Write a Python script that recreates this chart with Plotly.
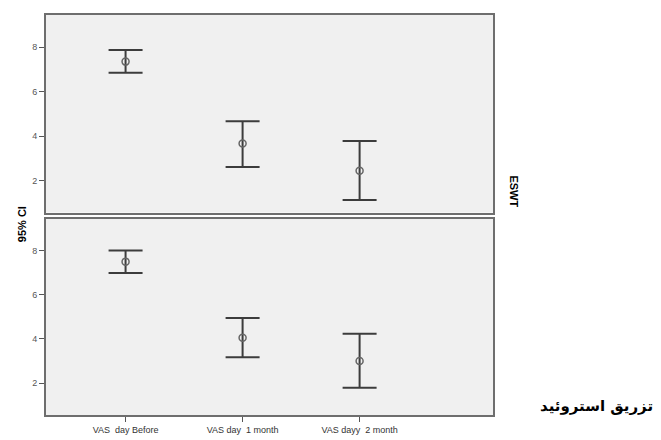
import plotly.graph_objects as go

categories = ["VAS  day Before", "VAS day  1 month", "VAS dayy  2 month"]
eswt_mean = [7.35, 3.66, 2.44]
eswt_lower = [6.85, 2.60, 1.12]
eswt_upper = [7.87, 4.66, 3.77]
ster_mean = [7.50, 4.05, 3.00]
ster_lower = [6.98, 3.17, 1.78]
ster_upper = [8.00, 4.95, 4.23]
y_ticks = [2, 4, 6, 8]
panel_labels = ["ESWT", "تزریق استروئید"]

fig = go.Figure()

def add_panel(mean, lower, upper, xa, ya):
    xs = list(range(len(categories)))
    fig.add_trace(go.Scatter(
        x=xs, y=mean, mode="markers", xaxis=xa, yaxis=ya,
        marker=dict(symbol="circle-open", size=7, color="#666666", line=dict(width=1.5)),
        error_y=dict(type="data", symmetric=False,
                     array=[u - m for u, m in zip(upper, mean)],
                     arrayminus=[m - l for m, l in zip(mean, lower)],
                     color="#3c3c3c", thickness=2, width=17),
        showlegend=False, hoverinfo="skip"))

add_panel(eswt_mean, eswt_lower, eswt_upper, "x", "y")
add_panel(ster_mean, ster_lower, ster_upper, "x2", "y2")

ax_common = dict(showline=True, mirror=True, linecolor="#6e6e6e", linewidth=2,
                 showgrid=False, zeroline=False, range=[-0.68, 3.14])
ay_common = dict(showline=True, mirror=True, linecolor="#6e6e6e", linewidth=2,
                 showgrid=False, zeroline=False, range=[0.55, 9.45],
                 tickvals=y_ticks, ticks="outside", ticklen=5, tickcolor="#555555",
                 tickfont=dict(family="Arial, Liberation Sans", size=9, color="#555555"))

fig.update_layout(
    width=653, height=432,
    margin=dict(l=38, r=168, t=5, b=18),
    paper_bgcolor="white", plot_bgcolor="#f0f0f0",
    xaxis=dict(**ax_common, domain=[0, 1], anchor="y", showticklabels=False, ticks=""),
    yaxis=dict(**ay_common, domain=[0.506, 1], anchor="x"),
    xaxis2=dict(**ax_common, domain=[0, 1], anchor="y2", tickvals=[0, 1, 2],
                ticktext=categories, ticks="outside", ticklen=5, tickcolor="#555555",
                tickfont=dict(family="Arial, Liberation Sans", size=9, color="#333333")),
    yaxis2=dict(**ay_common, domain=[0, 0.491], anchor="x2"),
)

fig.add_annotation(text="<b>95% CI</b>", xref="paper", yref="paper", x=-0.073, y=0.478,
                   textangle=-90, showarrow=False,
                   font=dict(family="Arial, Liberation Sans", size=11, color="black"))
fig.add_annotation(text="<b>" + panel_labels[0] + "</b>", xref="paper", yref="paper",
                   x=1.064, y=0.56, textangle=90, showarrow=False,
                   font=dict(family="Arial, Liberation Sans", size=11, color="black"))
fig.add_annotation(text="<b>" + panel_labels[1] + "</b>", xref="paper", yref="paper",
                   x=1.363, y=-0.005, xanchor="right", showarrow=False,
                   font=dict(family="DejaVu Sans", size=15, color="black"))

fig.write_html("out.html")
